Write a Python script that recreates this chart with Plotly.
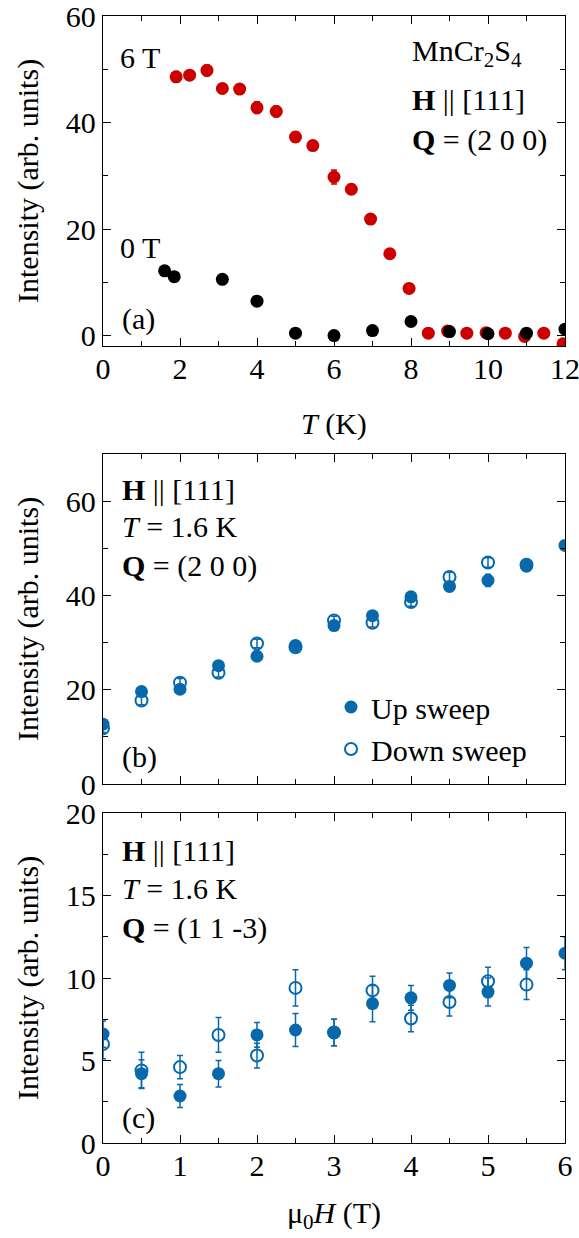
import plotly.graph_objects as go

# ---------------- data ----------------
# panel (a): intensity vs temperature
T_6T = [1.9, 2.25, 2.7, 3.1, 3.55, 4.0, 4.5, 5.0, 5.45, 6.0, 6.45, 6.95, 7.45, 7.95,
        8.45, 8.95, 9.45, 9.95, 10.45, 10.95, 11.45, 11.95]
I_6T = [48.6, 48.9, 49.8, 46.4, 46.3, 42.8, 42.1, 37.3, 35.7, 29.8, 27.5, 21.9, 15.4, 8.9,
        0.5, 0.9, 0.5, 0.6, 0.5, -0.1, 0.5, -1.5]
E_6T = [1.0, 0.8, 1.0, 0.9, 0.9, 1.1, 1.0, 1.0, 0.9, 1.3, 0.9, 0.8, 0.7, 0.7,
        0.6, 0.6, 0.6, 0.6, 0.6, 0.6, 0.6, 0.6]
T_0T = [1.6, 1.85, 3.1, 4.0, 5.0, 6.0, 7.0, 8.0, 9.0, 10.0, 11.0, 12.0]
I_0T = [12.2, 11.1, 10.6, 6.5, 0.5, 0.05, 1.0, 2.7, 0.8, 0.4, 0.5, 1.25]
E_0T = [0.9, 0.6, 0.6, 0.6, 0.6, 0.6, 0.6, 0.6, 0.9, 0.6, 0.6, 0.6]

# panel (b): Q = (2 0 0) vs field
H_b = [0, 0.5, 1, 1.5, 2, 2.5, 3, 3.5, 4, 4.5, 5, 5.5, 6]
I_b_up = [12.7, 19.6, 20.1, 25.1, 27.1, 29.4, 33.6, 35.7, 39.7, 41.9, 43.2, 46.2, 50.6]
E_b_up = [0.9, 0.9, 0.9, 0.9, 0.9, 0.9, 0.9, 0.9, 1.0, 1.0, 1.3, 1.0, 1.0]
H_b_dn = [0, 0.5, 1, 1.5, 2, 2.5, 3, 3.5, 4, 4.5, 5, 5.5]
I_b_dn = [11.8, 17.7, 21.5, 23.6, 29.8, 29.0, 34.7, 34.2, 38.6, 43.9, 47.0, 46.5]
E_b_dn = [0.9, 0.9, 0.9, 0.9, 0.9, 0.9, 0.9, 0.9, 0.9, 1.0, 1.0, 1.0]

# panel (c): Q = (1 1 -3) vs field
H_c = [0, 0.5, 1, 1.5, 2, 2.5, 3, 3.5, 4, 4.5, 5, 5.5, 6]
I_c_up = [6.6, 4.2, 2.85, 4.2, 6.55, 6.85, 6.7, 8.45, 8.8, 9.55, 9.15, 10.9, 11.5]
E_c_up = [0.8, 0.85, 0.7, 0.8, 0.75, 1.0, 0.8, 1.1, 0.75, 0.75, 0.85, 0.95, 1.0]
H_c_dn = [0, 0.5, 1, 1.5, 2, 2.5, 3, 3.5, 4, 4.5, 5, 5.5]
I_c_dn = [6.0, 4.4, 4.6, 6.55, 5.3, 9.4, 6.7, 9.25, 7.55, 8.55, 9.8, 9.6]
E_c_dn = [0.9, 1.1, 0.7, 1.05, 0.75, 1.1, 0.8, 0.85, 0.8, 0.85, 0.85, 0.9]

RED = '#CC0000'
BLACK = '#000000'
BLUE = '#0868AC'
FONT = 'Liberation Serif'
FS = 30
W, H = 579, 1238

fig = go.Figure()

def err(arr, color):
    return dict(type='data', array=arr, color=color, thickness=1.5, width=3)

# panel (a)
fig.add_trace(go.Scatter(x=T_6T, y=I_6T, mode='markers', error_y=err(E_6T, RED),
                         marker=dict(color=RED, size=13), xaxis='x', yaxis='y', showlegend=False))
fig.add_trace(go.Scatter(x=T_0T, y=I_0T, mode='markers', error_y=err(E_0T, BLACK),
                         marker=dict(color=BLACK, size=13), xaxis='x', yaxis='y', showlegend=False))

# panel (b)
fig.add_trace(go.Scatter(x=H_b_dn, y=I_b_dn, mode='markers', error_y=err(E_b_dn, BLUE),
                         marker=dict(color=BLUE, size=12, symbol='circle-open', line=dict(width=2)),
                         xaxis='x2', yaxis='y2', name='Down sweep', legendrank=2))
fig.add_trace(go.Scatter(x=H_b, y=I_b_up, mode='markers', error_y=err(E_b_up, BLUE),
                         marker=dict(color=BLUE, size=13), xaxis='x2', yaxis='y2',
                         name='Up sweep', legendrank=1))

# panel (c)
fig.add_trace(go.Scatter(x=H_c_dn, y=I_c_dn, mode='markers', error_y=err(E_c_dn, BLUE),
                         marker=dict(color=BLUE, size=12, symbol='circle-open', line=dict(width=2)),
                         xaxis='x3', yaxis='y3', showlegend=False))
fig.add_trace(go.Scatter(x=H_c, y=I_c_up, mode='markers', error_y=err(E_c_up, BLUE),
                         marker=dict(color=BLUE, size=13), xaxis='x3', yaxis='y3', showlegend=False))

def px_x(p):
    return p / W

def px_y(p):
    return 1 - p / H

xdom = [px_x(103), px_x(565)]

def ax(rng, dtick, mdtick, domain, anchor, labels=True, standoff=0):
    return dict(range=rng, dtick=dtick, tick0=0, domain=domain, anchor=anchor,
                automargin=False, ticklabeloverflow='allow', ticklabelstandoff=standoff,
                ticks='inside', ticklen=8, tickwidth=1.3, tickcolor='black',
                showline=True, linecolor='black', linewidth=1.3, mirror='ticks',
                showgrid=False, zeroline=False, showticklabels=labels,
                tickfont=dict(family=FONT, size=FS, color='black'),
                minor=dict(ticks='inside', ticklen=5, tickwidth=1.2, tickcolor='black',
                           dtick=mdtick, tick0=0, showgrid=False))

ann = []

def txt(x, y, s, xanchor='left', angle=0):
    ann.append(dict(x=px_x(x), y=px_y(y), xref='paper', yref='paper', text=s,
                    showarrow=False, xanchor=xanchor, yanchor='middle', textangle=angle,
                    font=dict(family=FONT, size=FS, color='black')))

PAR = '||'
# panel (a) texts
txt(118, 57, '6 T')
txt(118, 247, '0 T')
txt(120, 319, '(a)')
txt(410, 53, 'MnCr<sub>2</sub>S<sub>4</sub>')
txt(410, 100, '<b>H</b> ' + PAR + ' [111]')
txt(410, 140, '<b>Q</b> = (2 0 0)')
txt(334, 424, '<i>T</i> (K)', 'center')
# panel (b) texts
txt(120, 489, '<b>H</b> ' + PAR + ' [111]')
txt(120, 527, '<i>T</i> = 1.6 K')
txt(120, 566, '<b>Q</b> = (2 0 0)')
txt(120, 757, '(b)')
# panel (c) texts
txt(120, 850, '<b>H</b> ' + PAR + ' [111]')
txt(120, 888, '<i>T</i> = 1.6 K')
txt(120, 928, '<b>Q</b> = (1 1 -3)')
txt(120, 1118, '(c)')
txt(334, 1215, '\u03bc<sub>0</sub><i>H</i> (T)', 'center')
# y titles
for yc in [181, 619, 978]:
    txt(28, yc, 'Intensity (arb. units)', 'center', -90)

fig.update_layout(
    template='none',
    width=W, height=H,
    margin=dict(l=0, r=0, t=0, b=0, pad=0),
    paper_bgcolor='white', plot_bgcolor='white',
    font=dict(family=FONT, size=FS, color='black'),
    xaxis=ax([0, 12], 2, 1, xdom, 'y', standoff=-4),
    yaxis=ax([-1.9, 60], 20, 10, [px_y(346), px_y(16)], 'x'),
    xaxis2=ax([0, 6], 1, 0.5, xdom, 'y2', labels=False),
    yaxis2=ax([0, 70], 20, 10, [px_y(784), px_y(454)], 'x2'),
    xaxis3=ax([0, 6], 1, 0.5, xdom, 'y3', standoff=-4),
    yaxis3=ax([0, 20], 5, 2.5, [px_y(1143), px_y(813)], 'x3'),
    annotations=ann,
    showlegend=True,
    legend=dict(x=px_x(331), y=px_y(681), xanchor='left', yanchor='top',
                bgcolor='rgba(0,0,0,0)', font=dict(family=FONT, size=FS, color='black'),
                itemwidth=30, tracegroupgap=0, borderwidth=0),
)

fig.write_html('out.html')
